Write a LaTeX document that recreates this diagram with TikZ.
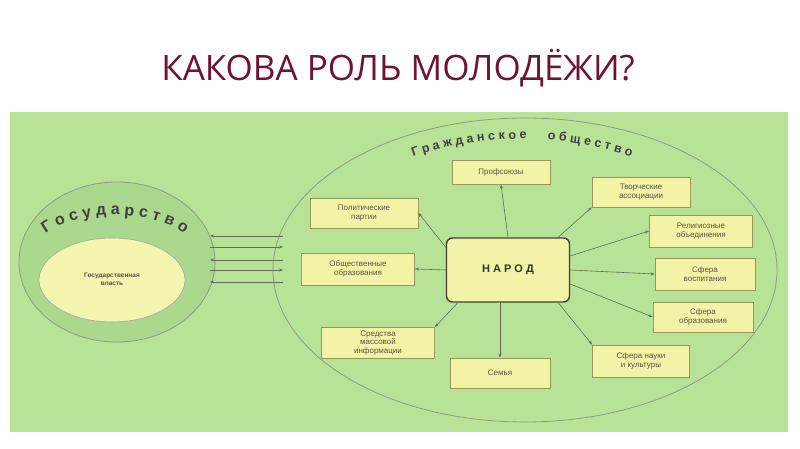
\documentclass[tikz,border=0pt]{standalone}
\usepackage{fontspec}
\setmainfont{Liberation Sans}
\newfontfamily\titlefont{Open Sans}
\usetikzlibrary{decorations.text,arrows.meta}
\definecolor{panel}{RGB}{184,226,150}
\definecolor{ring}{RGB}{172,216,142}
\definecolor{boxf}{RGB}{243,243,168}
\definecolor{boxd}{RGB}{150,150,90}
\definecolor{ln}{RGB}{95,110,85}
\definecolor{tt}{RGB}{110,20,50}
\definecolor{txt}{RGB}{85,85,65}
\tikzset{
 box/.style={draw=boxd,fill=boxf,line width=0.9pt,align=center,font=\fontsize{8}{9}\selectfont,text=txt,inner sep=1pt},
 arr/.style={draw=ln,line width=0.6pt,-{Stealth[length=4pt,width=3pt]}},
}
\begin{document}
\begin{tikzpicture}[x=1pt,y=1pt]
\useasboundingbox (0,0) rectangle (800,449);
\fill[white] (0,0) rectangle (800,449);
\node[font=\titlefont\fontsize{35}{40}\selectfont,text=tt] (title) at (398,381) {КАКОВА РОЛЬ МОЛОДЁЖИ?};
\fill[panel] (10,17) rectangle (788,337);
% state
\draw[ln!70,fill=ring,line width=0.8pt] (117,187) ellipse [x radius=98,y radius=80];
\draw[ln!60,fill=boxf!90!white,line width=0.6pt] (112,169) ellipse [x radius=73,y radius=42];
\node[font=\fontsize{6.5}{8}\selectfont\bfseries,text=txt,align=center] (gv) at (112,170) {Государственная\\власть};
\path[decorate,decoration={text along path,text align=center,text={|\fontsize{16}{16}\selectfont\bfseries\color{black!75}|Г о с у д а р с т в о}}]
 (115,188) ++(178:86 and 46) arc[start angle=178,end angle=2,x radius=86,y radius=46];
% civil
\draw[ln!70,line width=0.8pt] (525,179) ellipse [x radius=252,y radius=152];
\path[decorate,decoration={text along path,text align=center,text={|\fontsize{12.5}{12.5}\selectfont\bfseries\color{black!75}|Г р а ж д а н с к о е{ } { } { } о б щ е с т в о}}]
 (522,200) ++(148:200 and 110) arc[start angle=148,end angle=32,x radius=200,y radius=110];
\node[box,minimum width=123,minimum height=64,rounded corners=6pt,draw=black!75,line width=1.4pt,font=\fontsize{11}{12}\selectfont\bfseries,text=black!80] (n) at (508,179) {Н А Р О Д};
\node[box,minimum width=98,minimum height=24] (b1) at (501,277) {Профсоюзы};
\node[box,minimum width=98,minimum height=30] (b2) at (641,257) {Творческие\\ассоциации};
\node[box,minimum width=103,minimum height=32] (b3) at (701,218) {Религиозные\\объединения};
\node[box,minimum width=100,minimum height=32] (b4) at (705,175) {Сфера\\воспитания};
\node[box,minimum width=100,minimum height=30] (b5) at (703,132) {Сфера\\образования};
\node[box,minimum width=97,minimum height=32] (b6) at (641,88) {Сфера науки\\и культуры};
\node[box,minimum width=100,minimum height=30] (b7) at (500,76) {Семья};
\node[box,minimum width=108,minimum height=30] (b8) at (364,236) {Политические\\партии};
\node[box,minimum width=113,minimum height=32] (b9) at (358,180) {Общественные\\образования};
\node[box,minimum width=113,minimum height=31,font=\fontsize{8}{8.5}\selectfont] (b10) at (378,106) {Средства\\массовой\\информации};
\draw[arr] (n.north) -- (b1.south);
\draw[arr] (n.north east) ++(-12,0) -- (b2.south west);
\draw[arr] (n.east) ++(0,14) -- (b3.west);
\draw[arr] (n.east) -- (b4.west);
\draw[arr] (n.east) ++(0,-14) -- (b5.west);
\draw[arr] (n.south east) ++(-12,0) -- (b6.north west);
\draw[arr] (n.south) ++(-8,0) -- (b7.north);
\draw[arr] (n.north west) ++(0,-10) -- (b8.east);
\draw[arr] (n.west) -- (b9.east);
\draw[arr] (n.south west) ++(12,0) -- (b10.north east);
% links state - society
\foreach \i/\y in {1/213,2/202,3/189,4/179,5/167}{
 \coordinate (sa\i) at (210,\y); \coordinate (sb\i) at (283,\y);
}
\draw[arr] (sb1) -- (sa1);
\draw[arr] (sa2) -- (sb2);
\draw[arr] (sb3) -- (sa3);
\draw[arr] (sa4) -- (sb4);
\draw[arr] (sb5) -- (sa5);
\end{tikzpicture}
\end{document}
